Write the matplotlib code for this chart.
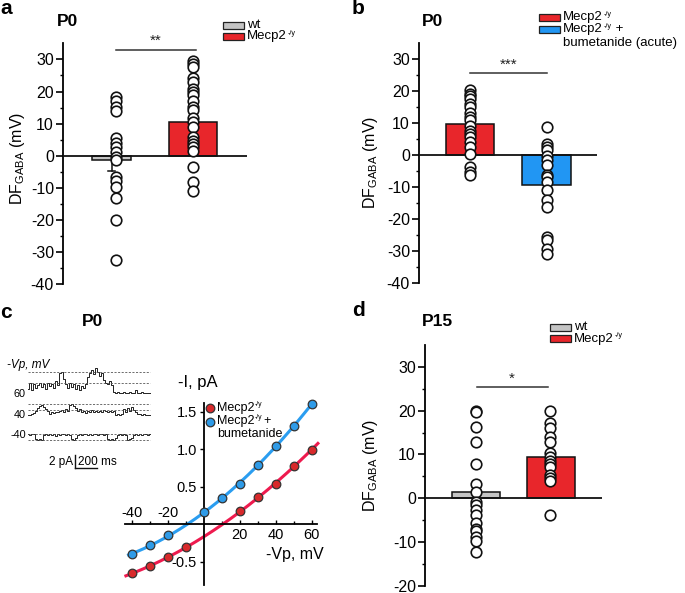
import numpy as np
import matplotlib
matplotlib.use('Agg')
import matplotlib.pyplot as plt
from matplotlib.patches import Rectangle

W, H = 685, 593
plt.rcParams['font.family'] = ['Liberation Sans', 'DejaVu Sans']
plt.rcParams['mathtext.fontset'] = 'custom'
plt.rcParams['mathtext.rm'] = 'Liberation Sans'
plt.rcParams['mathtext.it'] = 'Liberation Sans:italic'
plt.rcParams['mathtext.bf'] = 'Liberation Sans:bold'
plt.rcParams['axes.unicode_minus'] = False

GENE = 'Mecp2'
SUP = '-/y'
YLABEL = 'DF$_{\\mathrm{GABA}}$ (mV)'

# ---------------- data ----------------
# panel a (P0): wt vs Mecp2-/y
a_means = [-1.3, 10.4]
a_sems = [3.4, 2.0]
a_wt = [18.4, 17.1, 15.3, 14.0, 5.4, 3.8, 2.6, 1.0, -0.5, -1.4, -6.7, -7.8,
        -9.9, -13.2, -19.9, -32.5]
a_mecp2 = [29.6, 28.5, 27.5, 24.2, 23.0, 20.8, 19.7, 18.9, 17.1, 15.1, 14.2,
           11.9, 10.4, 8.8, 5.7, 4.7, 3.6, 2.6, 1.6, -3.6, -8.3, -10.9]
a_sig = '**'

# panel b (P0): Mecp2-/y vs Mecp2-/y + bumetanide (acute)
b_means = [9.5, -9.4]
b_sems = [1.8, 2.6]
b_mecp2 = [20.3, 19.0, 18.3, 17.5, 15.9, 14.9, 13.0, 11.7, 10.9, 9.1, 7.3, 6.5,
           5.5, 3.9, 2.4, 0.3, -3.8, -5.4, -6.2]
b_bum = [8.8, 3.2, 2.4, 1.4, -0.5, -1.8, -3.3, -6.4, -7.0, -8.5, -11.1, -14.2,
         -16.3, -25.7, -26.7, -29.6, -30.9]
b_sig = '***'

# panel d (P15): wt vs Mecp2-/y
d_means = [1.5, 9.5]
d_sems = [2.5, 1.6]
d_wt = [20.0, 19.6, 16.3, 12.8, 7.8, 3.3, 1.4, -0.9, -1.5, -2.7, -3.9, -5.8,
        -7.0, -7.5, -8.9, -9.8, -12.3]
d_mecp2 = [20.0, 17.1, 16.0, 13.9, 12.8, 10.3, 9.5, 8.6, 7.8, 7.2, 5.2, 4.6,
           4.0, -3.8]
d_sig = '*'

# panel c: I-V relation
iv_v_red = [-40, -30, -20, -10, 20, 30, 40, 50, 60]
iv_i_red = [-0.65, -0.56, -0.44, -0.31, 0.17, 0.36, 0.53, 0.78, 0.99]
iv_v_blue = [-40, -30, -20, 0, 10, 20, 30, 40, 50, 60]
iv_i_blue = [-0.40, -0.28, -0.15, 0.16, 0.35, 0.53, 0.79, 1.04, 1.31, 1.60]

# panel c: single-channel traces (channel open level, units of unitary current)
trace_labels = ['60', '40', '-40']
trace_60 = [0.4, 1.0, 0.3, 0.9, 0.5, 0.8, 1.0, 0.6, 0.9, 0.4, 1.0, 0.7, 0.9, 0.5, 1.1, 0.8,
            1.9, 2.0, 1.3, 0.9,
            0.5, 1.0, 0.6, 0.9, 0.4, 0.8, 0.3, 0.7, 0.5, 0.9,
            1.5, 1.9, 2.2, 1.8, 2.4, 2.0, 1.6, 1.9, 1.2,
            1.0, 0.9, 1.1, 0.8,
            0.1, 0.0, 0.05, 0.0, 0.0, 0.05, 0.0, 0.0, 0.1, 0.0, 0.0, 0.3, 0.0, 0.0, 0.05,
            0.0, 0.0, 0.0, 0.0]
trace_40 = [0.1, 0.2, 0.3, 0.5, 0.8,
            1.3, 1.6, 1.9, 1.5, 1.2, 0.8,
            0.4, 0.6, 0.5, 0.7, 0.6, 0.8, 1.0, 0.7, 1.1, 0.9,
            1.8, 2.0, 1.6, 1.3,
            0.8, 1.1, 0.6, 0.9, 0.5, 0.8, 0.7, 1.0, 0.6, 0.9, 0.7, 0.8, 0.6, 1.0, 0.8, 0.7,
            0.9, 0.6, 0.8,
            0.2, 0.3, 0.2, 0.4,
            1.2, 0.7, 1.4, 0.9, 1.5, 1.0, 0.6,
            0.4, 0.3, 0.2, 0.3, 0.2, 0.2, 0.1]
trace_m40 = [0.0, 0.1, 0.0, 0.0,
             0.9, 1.0, 0.9, 1.0,
             0.1, 0.0, 0.2, 0.0, 0.1, 0.0, 0.3, 0.0, 0.1, 0.0, 0.0, 0.2, 0.0, 0.1,
             0.8, 1.0, 0.6,
             0.1, 0.0, 0.2, 0.0, 0.0, 0.1, 0.0, 0.2, 0.0, 0.0, 0.1, 0.0, 0.0, 0.2, 0.0,
             0.9, 1.0, 0.8, 1.0, 0.7,
             0.1, 0.0, 0.2, 0.0, 0.1,
             1.0, 0.9, 0.6,
             0.1, 0.0, 0.2, 0.0, 0.1, 0.0, 0.0, 0.1, 0.0]

# ---------------- style ----------------
RED = '#e8262b'
BLUE = '#2196f3'
GRAY = '#c4c4c4'
RED_LINE = '#ee1a4e'
BLUE_LINE = '#2a9df0'
RED_DOT = '#d8292b'
BLUE_DOT = '#2e9be8'
LEG_FS = 9.5

fig = plt.figure(figsize=(W / 100, H / 100), dpi=100)
renderer = fig.canvas.get_renderer()


def rect(x0, y0, x1, y1):
    return [x0 / W, 1 - y1 / H, (x1 - x0) / W, (y1 - y0) / H]


ov = fig.add_axes([0, 0, 1, 1], zorder=10)
ov.set_xlim(0, W)
ov.set_ylim(H, 0)
ov.axis('off')
ov.patch.set_alpha(0)


def right_edge(t):
    bb = t.get_window_extent(renderer)
    return ov.transData.inverted().transform((bb.x1, bb.y0))[0]


def gene_text(x, y, fs, suffix=''):
    t = ov.text(x, y, GENE, ha='left', va='center', fontsize=fs)
    xr = right_edge(t)
    s = ov.text(xr + 0.5, y - 3.2, SUP, ha='left', va='center', fontsize=fs * 0.55)
    if suffix:
        xs = right_edge(s)
        ov.text(xs + 0.3, y, suffix, ha='left', va='center', fontsize=fs)


def bar_panel(box, ylim, yticks, centers, widths, dots, means, sems, colors,
              points, sig_px, sig_y, sig_text, star_y):
    x0, y0, x1, y1 = box
    ax = fig.add_axes(rect(*box))
    ax.patch.set_alpha(0)
    unit = centers[1] - centers[0]
    tox = lambda px: (px - centers[0]) / unit
    ax.set_xlim(tox(x0), tox(x1))
    ax.set_ylim(*ylim)
    pos = np.arange(2)
    w = [wd / unit for wd in widths]
    dpos = [tox(d) for d in dots]
    ax.bar(pos, means, width=w, color=colors, edgecolor='#111', linewidth=1.1, zorder=2)
    for p, m, s in zip(pos, means, sems):
        e = m + np.sign(m) * s
        ax.plot([p, p], [m, e], color='#111', lw=1.1, zorder=1.5)
        ax.plot([p - 0.04, p + 0.04], [e, e], color='#111', lw=1.1, zorder=1.5)
    ax.axhline(0, color='#111', lw=1.3, zorder=3)
    for i, pts in enumerate(points):
        ax.plot(np.full(len(pts), dpos[i]), pts, 'o', mfc='white', mec='#111',
                ms=7.6, mew=1.2, zorder=4, clip_on=False)
    ax.plot([tox(sig_px[0]), tox(sig_px[1])], [sig_y, sig_y], color='#333', lw=1.1)
    ax.text((tox(sig_px[0]) + tox(sig_px[1])) / 2, star_y, sig_text, ha='center',
            va='center', fontsize=11, color='#222')
    for s in ['top', 'right', 'bottom']:
        ax.spines[s].set_visible(False)
    ax.spines['left'].set_linewidth(1.3)
    ax.set_xticks([])
    ax.set_yticks(yticks)
    ax.set_yticks(np.arange(yticks[0], ylim[1], 5), minor=True)
    ax.tick_params(axis='y', which='major', length=5, width=1.2, labelsize=11.5,
                   direction='out', pad=1.5)
    ax.tick_params(axis='y', which='minor', length=2.5, width=1.0, direction='out')
    return ax


# panel a
bar_panel((63, 43.4, 247, 284), (-40, 35), np.arange(-40, 31, 10),
          (111.5, 193), (38.5, 48), (116, 193), a_means, a_sems, [GRAY, RED],
          [a_wt, a_mecp2], (116, 196), 33, a_sig, 35.8)
# panel b
bar_panel((419, 42.7, 596.7, 282.7), (-40, 35), np.arange(-40, 31, 10),
          (470, 546.2), (48, 49), (470, 546.7), b_means, b_sems, [RED, BLUE],
          [b_mecp2, b_bum], (470, 546.7), 25.6, b_sig, 28.2)
# panel d
bar_panel((425, 345.2, 602.3, 585.5), (-20, 35), np.arange(-20, 31, 10),
          (475.8, 550.8), (48.3, 48.3), (475.7, 550), d_means, d_sems, [GRAY, RED],
          [d_wt, d_mecp2], (476.7, 547.7), 25.4, d_sig, 27.4)

# y labels
for x, y in [(18, 158), (371, 162), (371, 465)]:
    ov.text(x, y, YLABEL, rotation=90, ha='center', va='center', fontsize=11.5)


# legends
def patch(x, y, c):
    ov.add_patch(Rectangle((x, y - 3.4), 21, 6.8, facecolor=c, edgecolor='#222', lw=0.9))


patch(223, 25.5, GRAY)
ov.text(247, 25.5, 'wt', ha='left', va='center', fontsize=LEG_FS)
patch(223, 36.3, RED)
gene_text(247, 36.3, LEG_FS)

patch(539, 17.3, RED)
gene_text(563, 17.3, LEG_FS)
patch(539, 29.3, BLUE)
gene_text(563, 29.3, LEG_FS, ' +')
ov.text(563, 43, 'bumetanide (acute)', ha='left', va='center', fontsize=LEG_FS)

patch(550, 327.5, GRAY)
ov.text(574, 327.5, 'wt', ha='left', va='center', fontsize=LEG_FS)
patch(550, 338.7, RED)
gene_text(574, 338.7, LEG_FS)

# titles and panel letters
for x, y, t in [(67.5, 21, 'P0'), (432.5, 22, 'P0'), (92.5, 322, 'P0'), (437.5, 322, 'P15')]:
    ov.text(x, y, t, ha='center', va='center', fontsize=12.5, fontweight='bold')
for x, y, t in [(0.5, 9, 'a'), (352, 9, 'b'), (0.5, 312, 'c'), (352, 310, 'd')]:
    ov.text(x, y, t, ha='left', va='center', fontsize=15, fontweight='bold')

# panel c: I-V plot
ax = fig.add_axes(rect(125, 402.7, 317, 585))
ax.patch.set_alpha(0)
ax.set_xlim(-44, 63)
ax.set_ylim(-0.81, 1.62)
for s in ['top', 'right']:
    ax.spines[s].set_visible(False)
for s in ['left', 'bottom']:
    ax.spines[s].set_position(('data', 0))
    ax.spines[s].set_linewidth(1.3)
pr = np.polyfit(iv_v_red, iv_i_red, 2)
pb = np.polyfit(iv_v_blue, iv_i_blue, 2)
xr = np.linspace(-43.5, 63.5, 200)
xb = np.linspace(-42, 60, 200)
ax.plot(xr, np.polyval(pr, xr), color=RED_LINE, lw=2.2, zorder=2, clip_on=False)
ax.plot(xb, np.polyval(pb, xb), color=BLUE_LINE, lw=2.2, zorder=2, clip_on=False)
ax.plot(iv_v_red, iv_i_red, 'o', color=RED_DOT, mec='#333', ms=6.2, mew=0.9, zorder=3, clip_on=False)
ax.plot(iv_v_blue, iv_i_blue, 'o', color=BLUE_DOT, mec='#333', ms=6.2, mew=0.9, zorder=3, clip_on=False)
ax.set_xticks([-40, -20, 20, 40, 60])
ax.set_xticklabels(['', '', '20', '40', '60'])
ax.set_xticks([-30, -10, 10, 30, 50], minor=True)
ax.tick_params(axis='x', which='both', direction='in', length=3, width=1.0, labelsize=10.5, pad=3)
ax.tick_params(axis='x', which='minor', length=2)
for v in [-40, -20]:
    ax.annotate(str(v), (v, 0), xytext=(0, 3), textcoords='offset points',
                ha='center', va='bottom', fontsize=10.5)
ax.set_yticks([-0.5, 0.5, 1.0, 1.5])
ax.set_yticklabels(['%.1f' % t for t in [-0.5, 0.5, 1.0, 1.5]])
ax.tick_params(axis='y', direction='out', length=3, width=1.0, labelsize=10.5, pad=2)
ov.text(198, 382, '-I, pA', ha='center', va='center', fontsize=12)
ov.text(294.5, 555, '-Vp, mV', ha='center', va='center', fontsize=11.5)
ov.plot([210], [408], 'o', color=RED_DOT, mec='#333', ms=6.2, mew=0.9)
ov.plot([210], [422], 'o', color=BLUE_DOT, mec='#333', ms=6.2, mew=0.9)
gene_text(217, 408, 9)
gene_text(217, 421, 9, '+')
ov.text(217, 434, 'bumetanide', ha='left', va='center', fontsize=9)

# panel c: traces
traces = [trace_60, trace_40, trace_m40]
bases = [393, 416, 434]
units = [10.5, 6.0, -6.0]
dashes = [(372, 382.5), (404, 410), (434, 440)]
label_y = [394, 415, 435]
for tr, b, u, dl, ly, lab in zip(traces, bases, units, dashes, label_y, trace_labels):
    tx = np.linspace(28, 150, len(tr))
    ov.plot(tx, b - u * np.asarray(tr), color='#222', lw=0.7, drawstyle='steps-mid')
    for d in dl:
        ov.plot([27.7, 150], [d, d], color='#555', lw=0.6, ls=(0, (2.5, 1.8)))
    ov.text(26, ly, lab, ha='right', va='center', fontsize=7.8)
ov.text(7, 365, '-Vp, mV', ha='left', va='center', fontsize=8.5, style='italic')
ov.plot([75, 75], [455, 468], color='#111', lw=1)
ov.plot([75, 97], [468, 468], color='#111', lw=1)
ov.text(73, 462, '2 pA', ha='right', va='center', fontsize=8.5)
ov.text(78, 462, '200 ms', ha='left', va='center', fontsize=8.5)

fig.savefig('out.png', dpi=100)
